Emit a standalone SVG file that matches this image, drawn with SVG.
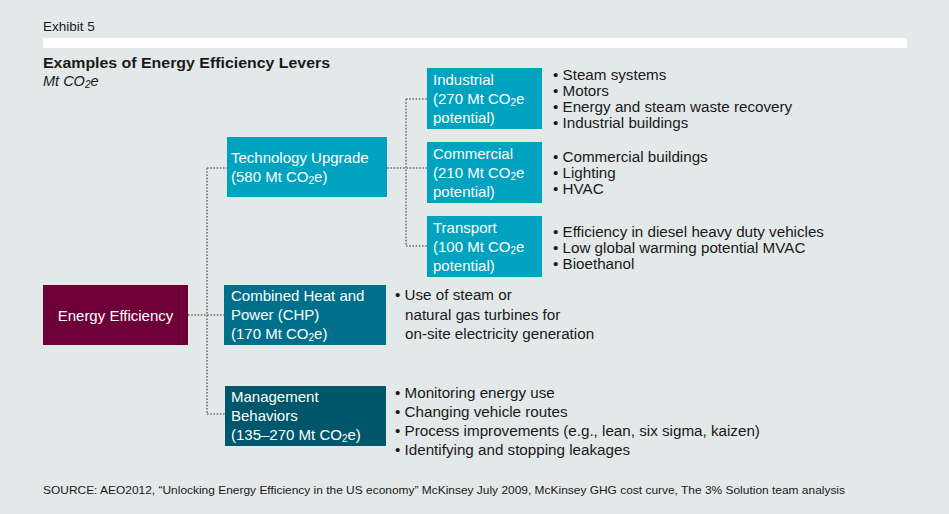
<svg xmlns="http://www.w3.org/2000/svg" width="949" height="514" viewBox="0 0 949 514">
<style>
text{font-family:"Liberation Sans",Arial,sans-serif;}
.w{fill:#ffffff;font-size:15px;}
.b{fill:#1a1a1a;font-size:15.2px;}
.sub{font-size:10px;}
.conn{fill:none;stroke:#6f6f6f;stroke-width:1.6;stroke-dasharray:1.6 1.6;}
</style>
<rect x="0" y="0" width="949" height="514" fill="#e3e8e9"/>
<text x="43" y="31" font-size="13.5" fill="#1a1a1a">Exhibit 5</text>
<rect x="43" y="38" width="864" height="10" fill="#ffffff"/>
<text x="43" y="68" font-size="14.5" font-weight="bold" fill="#1a1a1a" textLength="287" lengthAdjust="spacingAndGlyphs">Examples of Energy Efficiency Levers</text>
<text x="43" y="86" font-size="14.5" font-style="italic" fill="#1a1a1a">Mt CO<tspan class="sub" dy="2">2</tspan><tspan dy="-2">e</tspan></text>

<g id="connectors">
<path class="conn" d="M188,315 H224"/>
<path class="conn" d="M207,168 V414"/>
<path class="conn" d="M207,168 H227"/>
<path class="conn" d="M207,414 H225"/>
<path class="conn" d="M387,168 H427"/>
<path class="conn" d="M406,99 V246"/>
<path class="conn" d="M406,99 H427"/>
<path class="conn" d="M406,246 H427"/>
</g>

<g id="energy-efficiency">
<rect x="43" y="285" width="145" height="60" fill="#6d0039"/>
<text class="w" x="115.5" y="321" text-anchor="middle">Energy Efficiency</text>
</g>

<g id="technology-upgrade">
<rect x="227" y="137" width="160" height="60" fill="#00a3bf"/>
<text class="w" x="231" y="163">Technology Upgrade</text>
<text class="w" x="231" y="182">(580 Mt CO<tspan class="sub" dy="2">2</tspan><tspan dy="-2">e)</tspan></text>
</g>

<g id="industrial">
<rect x="427" y="68" width="115" height="61" fill="#00a3bf"/>
<text class="w" x="433" y="85">Industrial</text>
<text class="w" x="433" y="104">(270 Mt CO<tspan class="sub" dy="2">2</tspan><tspan dy="-2">e</tspan></text>
<text class="w" x="433" y="123">potential)</text>
</g>

<g id="commercial">
<rect x="427" y="142" width="115" height="61" fill="#00a3bf"/>
<text class="w" x="433" y="159">Commercial</text>
<text class="w" x="433" y="178">(210 Mt CO<tspan class="sub" dy="2">2</tspan><tspan dy="-2">e</tspan></text>
<text class="w" x="433" y="197">potential)</text>
</g>

<g id="transport">
<rect x="427" y="216" width="115" height="61" fill="#00a3bf"/>
<text class="w" x="433" y="233">Transport</text>
<text class="w" x="433" y="252">(100 Mt CO<tspan class="sub" dy="2">2</tspan><tspan dy="-2">e</tspan></text>
<text class="w" x="433" y="271">potential)</text>
</g>

<g id="chp">
<rect x="224" y="285" width="162" height="60" fill="#006f8b"/>
<text class="w" x="231" y="301">Combined Heat and</text>
<text class="w" x="231" y="320">Power (CHP)</text>
<text class="w" x="231" y="339">(170 Mt CO<tspan class="sub" dy="2">2</tspan><tspan dy="-2">e)</tspan></text>
</g>

<g id="management">
<rect x="225" y="386" width="161" height="60" fill="#00566a"/>
<text class="w" x="231" y="402">Management</text>
<text class="w" x="231" y="421">Behaviors</text>
<text class="w" x="231" y="440">(135–270 Mt CO<tspan class="sub" dy="2">2</tspan><tspan dy="-2">e)</tspan></text>
</g>

<g id="industrial-items">
<text class="b" x="553" y="80">• Steam systems</text>
<text class="b" x="553" y="96">• Motors</text>
<text class="b" x="553" y="112">• Energy and steam waste recovery</text>
<text class="b" x="553" y="128">• Industrial buildings</text>
</g>
<g id="commercial-items">
<text class="b" x="553" y="162">• Commercial buildings</text>
<text class="b" x="553" y="178">• Lighting</text>
<text class="b" x="553" y="194">• HVAC</text>
</g>
<g id="transport-items">
<text class="b" x="553" y="237">• Efficiency in diesel heavy duty vehicles</text>
<text class="b" x="553" y="253">• Low global warming potential MVAC</text>
<text class="b" x="553" y="269">• Bioethanol</text>
</g>
<g id="chp-items">
<text class="b" x="395" y="300">• Use of steam or</text>
<text class="b" x="405" y="320">natural gas turbines for</text>
<text class="b" x="405" y="339">on-site electricity generation</text>
</g>
<g id="management-items">
<text class="b" x="395" y="398">• Monitoring energy use</text>
<text class="b" x="395" y="417">• Changing vehicle routes</text>
<text class="b" x="395" y="436">• Process improvements (e.g., lean, six sigma, kaizen)</text>
<text class="b" x="395" y="455">• Identifying and stopping leakages</text>
</g>

<text x="43" y="494" font-size="11.5" fill="#1a1a1a" textLength="802" lengthAdjust="spacingAndGlyphs">SOURCE: AEO2012, “Unlocking Energy Efficiency in the US economy” McKinsey July 2009, McKinsey GHG cost curve, The 3% Solution team analysis</text>
</svg>
